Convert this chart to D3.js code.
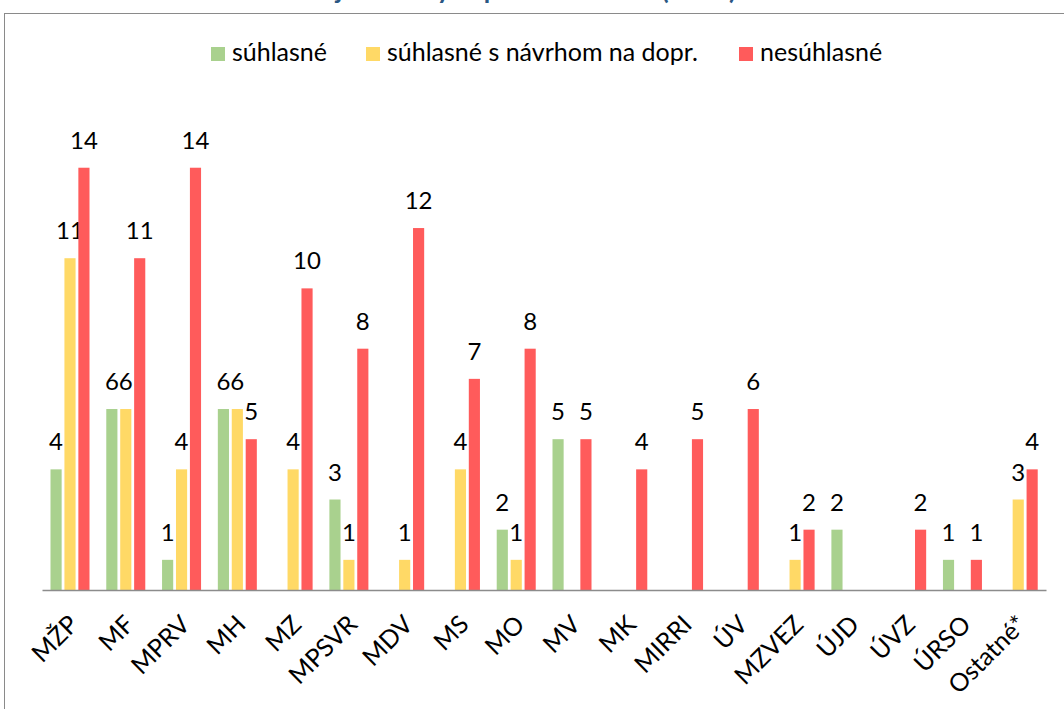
<!DOCTYPE html>
<html>
<head>
<meta charset="utf-8">
<script src="https://cdn.jsdelivr.net/npm/d3@7"></script>
<style>
  html, body { margin: 0; padding: 0; background: #fff; }
  svg { display: block; }
</style>
</head>
<body>
<script>
const titleText = "jednotlivých predkladateľov (2023)";
const categories = ["MŽP","MF","MPRV","MH","MZ","MPSVR","MDV","MS","MO","MV","MK","MIRRI","ÚV","MZVEZ","ÚJD","ÚVZ","ÚRSO","Ostatné*"];
const seriesNames = ["súhlasné", "súhlasné s návrhom na dopr.", "nesúhlasné"];
const suhlasne   = [4, 6, 1, 6, null, 3, null, null, 2, 5, null, null, null, null, 2, null, 1, null];
const suhlasneS  = [11, 6, 4, 6, 4, 1, 1, 4, 1, null, null, null, null, 1, null, null, null, 3];
const nesuhlasne = [14, 11, 14, 5, 10, 8, 12, 7, 8, 5, 4, 5, 6, 2, null, 2, 1, 4];
const colors = ["#A9D18E", "#FFD966", "#FF5B5B"];

const W = 1064, H = 709;
const svg = d3.select("body").append("svg").attr("width", W).attr("height", H);
const font = "Lato, 'Open Sans', sans-serif";

// frame
svg.append("rect").attr("x", 4.5).attr("y", 13.5).attr("width", W + 10).attr("height", H + 10)
  .attr("fill", "none").attr("stroke", "#8a8a8a").attr("stroke-width", 1);

// title (mostly cut off at the top, as in the reference)
svg.append("text").attr("x", 536).attr("y", -1).attr("text-anchor", "middle")
  .attr("font-family", font).attr("font-weight", "bold").attr("font-size", 26)
  .attr("fill", "#2A5783").text(titleText);

const x0 = d3.scaleBand().domain(categories).range([42, 1046]);
const x1 = d3.scaleBand().domain(seriesNames).range([8.5, 47.5]).paddingInner(0.2);
const y = d3.scaleLinear().domain([0, 16]).range([590, 107.4]);

const data = categories.map((c, i) => ({
  cat: c,
  vals: [suhlasne[i], suhlasneS[i], nesuhlasne[i]]
}));

const g = svg.append("g");
const groups = g.selectAll("g.grp").data(data).enter().append("g")
  .attr("transform", d => `translate(${x0(d.cat)},0)`);

const items = groups.selectAll("g.item")
  .data(d => d.vals.map((v, k) => ({ v, k, s: seriesNames[k] })).filter(e => e.v != null))
  .enter().append("g");

items.append("rect")
  .attr("x", e => x1(e.s))
  .attr("y", e => y(e.v))
  .attr("width", x1.bandwidth())
  .attr("height", e => y(0) - y(e.v))
  .attr("fill", e => colors[e.k]);

items.append("text")
  .attr("x", e => x1(e.s) + x1.bandwidth() / 2)
  .attr("y", e => y(e.v) - 19)
  .attr("text-anchor", "middle")
  .attr("font-family", font).attr("font-size", 24).attr("fill", "#000")
  .text(e => e.v);

// x axis
const xAxis = d3.axisBottom(x0).tickSize(0).tickPadding(0);
const ax = svg.append("g").attr("transform", `translate(0,${y(0)})`).call(xAxis);
ax.select(".domain").attr("stroke", "#8c8c8c").attr("stroke-width", 1.5);
ax.selectAll(".tick text")
  .attr("font-family", font).attr("font-size", 25).attr("fill", "#000")
  .attr("text-anchor", "end")
  .attr("dy", null)
  .attr("transform", "translate(10,36) rotate(-45)")
  .attr("x", 0).attr("y", 0);

// legend
const legendX = [211, 366, 739];
const lg = svg.append("g");
seriesNames.forEach((s, k) => {
  lg.append("rect").attr("x", legendX[k]).attr("y", 47).attr("width", 14).attr("height", 14).attr("fill", colors[k]);
  lg.append("text").attr("x", legendX[k] + 21).attr("y", 61)
    .attr("font-family", font).attr("font-size", 25).attr("fill", "#000").text(s);
});
</script>
</body>
</html>
